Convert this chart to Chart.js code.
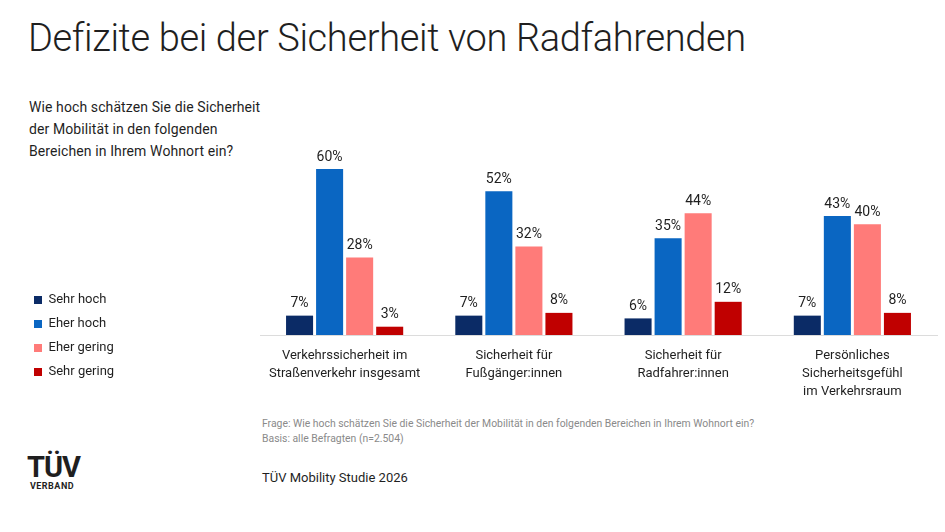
<!DOCTYPE html>
<html lang="de">
<head>
<meta charset="utf-8">
<title>Defizite bei der Sicherheit von Radfahrenden</title>
<script src="https://cdn.jsdelivr.net/npm/chart.js@4.4.1/dist/chart.umd.min.js"></script>
<style>
  html, body { margin: 0; padding: 0; background: #fff; }
  body { width: 945px; height: 532px; position: relative; overflow: hidden; font-family: Roboto, sans-serif; color: #1f1f1f; }
  #wrap { position: absolute; left: 0; top: 0; width: 945px; height: 532px; }
  .title { position: absolute; left: 28px; top: 16px; font-size: 38px; line-height: 44px; font-weight: 300; white-space: nowrap; letter-spacing: -0.35px; }
  .question { position: absolute; left: 29px; top: 96px; font-size: 14px; line-height: 22px; letter-spacing: 0.1px; }
  .note { position: absolute; left: 262px; top: 416px; font-size: 10.4px; line-height: 15px; color: #8a8a8a; }
  .source { position: absolute; left: 262px; top: 470px; font-size: 13px; line-height: 16px; }
  .logo { position: absolute; left: 27px; top: 453px; text-align: center; width: 50px; }
  .logo .big { font-size: 29px; font-weight: bold; line-height: 28px; letter-spacing: -1px; }
  .logo .small { font-size: 9px; font-weight: bold; line-height: 10px; letter-spacing: 0.5px; }
</style>
</head>
<body>
<div class="title">Defizite bei der Sicherheit von Radfahrenden</div>
<div class="question">Wie hoch schätzen Sie die Sicherheit<br>der Mobilität in den folgenden<br>Bereichen in Ihrem Wohnort ein?</div>
<div class="note">Frage: Wie hoch schätzen Sie die Sicherheit der Mobilität in den folgenden Bereichen in Ihrem Wohnort ein?<br>Basis: alle Befragten (n=2.504)</div>
<div class="source">TÜV Mobility Studie 2026</div>
<div class="logo"><div class="big">TÜV</div><div class="small">VERBAND</div></div>
<div id="wrap"><canvas id="chart"></canvas></div>
<script>
// Bereiche (x-Achse), mehrzeilig
const bereiche = [
    ['Verkehrssicherheit im', 'Straßenverkehr insgesamt'],
    ['Sicherheit für', 'Fußgänger:innen'],
    ['Sicherheit für', 'Radfahrer:innen'],
    ['Persönliches', 'Sicherheitsgefühl', 'im Verkehrsraum']
];

// Werte in Prozent
const sehrHoch = [7, 7, 6, 7];
const eherHoch = [60, 52, 35, 43];
const eherGering = [28, 32, 44, 40];
const sehrGering = [3, 8, 12, 8];

Chart.defaults.font.family = 'Roboto, sans-serif';
Chart.defaults.color = '#1f1f1f';

// Prozentwerte über den Balken
const wertLabels = {
    id: 'wertLabels',
    afterDatasetsDraw(chart) {
        const ctx = chart.ctx;
        ctx.save();
        ctx.font = '14px Roboto, sans-serif';
        ctx.fillStyle = '#1f1f1f';
        ctx.textAlign = 'center';
        ctx.textBaseline = 'bottom';
        chart.data.datasets.forEach((ds, i) => {
            chart.getDatasetMeta(i).data.forEach((bar, j) => {
                ctx.fillText(ds.data[j] + '%', bar.x, bar.y - 5);
            });
        });
        ctx.restore();
    }
};

const ctx = document.getElementById('chart').getContext('2d');
new Chart(ctx, {
    type: 'bar',
    data: {
        labels: bereiche,
        datasets: [
            { label: 'Sehr hoch', data: sehrHoch, backgroundColor: '#0b2b66' },
            { label: 'Eher hoch', data: eherHoch, backgroundColor: '#0a66c2' },
            { label: 'Eher gering', data: eherGering, backgroundColor: '#ff7b79' },
            { label: 'Sehr gering', data: sehrGering, backgroundColor: '#c00000' }
        ]
    },
    options: {
        responsive: true,
        maintainAspectRatio: false,
        animation: false,
        datasets: {
            bar: { categoryPercentage: 0.71, barPercentage: 0.9, borderWidth: 0 }
        },
        layout: {
            autoPadding: false,
            padding: { top: 140, left: 23, right: 8, bottom: 0 }
        },
        plugins: {
            legend: {
                position: 'left',
                align: 'center',
                labels: {
                    boxWidth: 8,
                    boxHeight: 8,
                    padding: 11,
                    color: '#1f1f1f',
                    font: { size: 13 }
                }
            },
            tooltip: { enabled: false }
        },
        scales: {
            x: {
                grid: { display: false, drawTicks: false },
                border: { display: true, color: '#dcdcdc', width: 1 },
                ticks: {
                    padding: 12,
                    maxRotation: 0,
                    autoSkip: false,
                    color: '#1f1f1f',
                    font: { size: 13, lineHeight: 1.385 }
                },
                afterFit(scale) { scale.height = 197; }
            },
            y: {
                min: 0,
                max: 70.5,
                grid: { display: false, drawTicks: false },
                border: { display: false },
                ticks: { display: false },
                afterFit(scale) {
                    const lw = scale.chart.legend ? scale.chart.legend.width : 120;
                    scale.width = Math.max(0, 260 - 23 - lw);
                }
            }
        }
    },
    plugins: [wertLabels]
});
</script>
</body>
</html>
